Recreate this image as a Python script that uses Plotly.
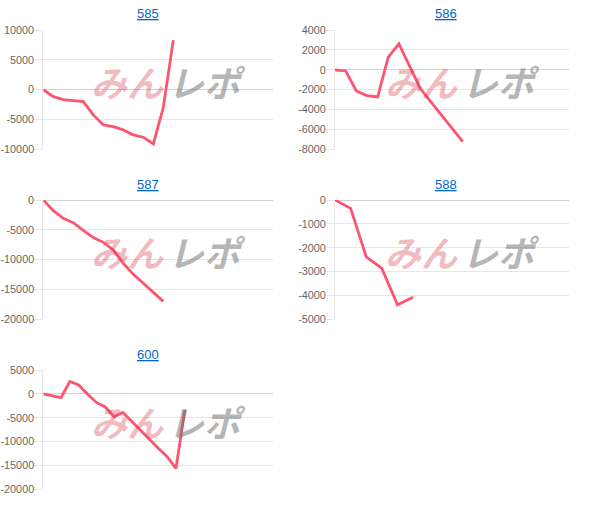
import plotly.graph_objects as go

# ---- data ----
titles = ["585", "586", "587", "588", "600"]

x_585 = list(range(14))
y_585 = [0, -1170, -1670, -1850, -2000, -4240, -5910, -6190, -6750, -7590, -7970, -9100, -3000, 8300]

x_586 = list(range(13))
y_586 = [0, -120, -2130, -2600, -2740, 1260, 2600, 350, -1860, -3240, -4580, -5930, -7230]

x_587 = list(range(13))
y_587 = [0, -1790, -3070, -3800, -5080, -6310, -7100, -8380, -10620, -12460, -13970, -15540, -17000]

x_588 = list(range(6))
y_588 = [0, -350, -2380, -2870, -4390, -4080]

x_600 = list(range(17))
y_600 = [0, -400, -800, 2600, 1850, -50, -1800, -2750, -4780, -3900, -5820, -7700, -9590,
         -11400, -13150, -15600, -3400]

ticks_585 = [-10000, -5000, 0, 5000, 10000]
ticks_586 = [-8000, -6000, -4000, -2000, 0, 2000, 4000]
ticks_587 = [-20000, -15000, -10000, -5000, 0]
ticks_588 = [-5000, -4000, -3000, -2000, -1000, 0]
ticks_600 = [-20000, -15000, -10000, -5000, 0, 5000]

x_slots = [23, 22, 23, 15, 26]  # number of x intervals shown in each panel

series = [
    (x_585, y_585, ticks_585),
    (x_586, y_586, ticks_586),
    (x_587, y_587, ticks_587),
    (x_588, y_588, ticks_588),
    (x_600, y_600, ticks_600),
]

# ---- layout geometry ----
W, H = 593, 505
left_dom = [43.3 / W, 273.3 / W]
right_dom = [335 / W, 569.3 / W]
rows = [(30, 149.3), (200, 319.3), (370, 489.3)]
title_y_px = [13.5, 184.5, 354.5]
title_x_px = [148, 446]

LINE = "rgb(255,84,112)"
GRID = "#e6e6e6"

fig = go.Figure()
layout = dict(
    width=W, height=H, autosize=False,
    margin=dict(l=0, r=0, t=0, b=0, autoexpand=False),
    paper_bgcolor="white", plot_bgcolor="white",
    showlegend=False, hovermode=False,
)
annotations = []

for i, (xs, ys, tv) in enumerate(series):
    n = i + 1
    col = i % 2
    row = i // 2
    xd = left_dom if col == 0 else right_dom
    top, bot = rows[row]
    yd = [1 - bot / H, 1 - top / H]
    xa = "xaxis" if n == 1 else f"xaxis{n}"
    ya = "yaxis" if n == 1 else f"yaxis{n}"
    xr = "x" if n == 1 else f"x{n}"
    yr = "y" if n == 1 else f"y{n}"

    fig.add_trace(go.Scatter(
        x=xs, y=ys, mode="lines", xaxis=xr, yaxis=yr,
        line=dict(color=LINE, width=2.8, shape="linear"),
        hoverinfo="skip",
    ))

    layout[xa] = dict(
        domain=xd, anchor=yr, range=[0, x_slots[i]],
        showgrid=False, zeroline=False, showline=False,
        showticklabels=False, ticks="", fixedrange=True, automargin=False,
    )
    layout[ya] = dict(
        domain=yd, anchor=xr, range=[min(tv), max(tv)],
        tickmode="array", tickvals=tv, ticktext=[str(v) for v in tv],
        showgrid=True, gridcolor=GRID, gridwidth=1,
        zeroline=True, zerolinecolor="#d2d2d2", zerolinewidth=1,
        showline=True, linecolor=GRID, linewidth=1,
        ticks="outside", ticklen=8, tickcolor=GRID, tickwidth=1,
        ticklabelstandoff=-2,
        tickfont=dict(family="Liberation Sans, Arial, sans-serif", size=10.8, color="#666666"),
        fixedrange=True, automargin=False,
    )

    # panel title (link style)
    annotations.append(dict(
        text=f"<u>{titles[i]}</u>", xref="paper", yref="paper",
        x=title_x_px[col] / W, y=1 - title_y_px[row] / H,
        xanchor="center", yanchor="middle", showarrow=False,
        font=dict(family="Liberation Sans, Arial, sans-serif", size=13, color="#0066cc"),
    ))

    # watermark
    annotations.append(dict(
        text="<b>みん</b>", xref=f"{xr} domain", yref=f"{yr} domain",
        x=0.535, y=0.575, xanchor="right", yanchor="middle", showarrow=False,
        font=dict(family="Noto Sans CJK JP", size=36, color="rgba(215,60,75,0.36)",
                  weight=900, style="italic"),
    ))
    annotations.append(dict(
        text="<b>レポ</b>", xref=f"{xr} domain", yref=f"{yr} domain",
        x=0.535, y=0.575, xanchor="left", yanchor="middle", showarrow=False,
        font=dict(family="Noto Sans CJK JP", size=36, color="rgba(110,110,110,0.5)",
                  weight=900, style="italic"),
    ))

layout["annotations"] = annotations
fig.update_layout(**layout)
fig.write_html(
    "out.html",
    config={"staticPlot": True, "displayModeBar": False},
    post_script="document.body.style.margin='0';document.body.style.padding='0';",
)
